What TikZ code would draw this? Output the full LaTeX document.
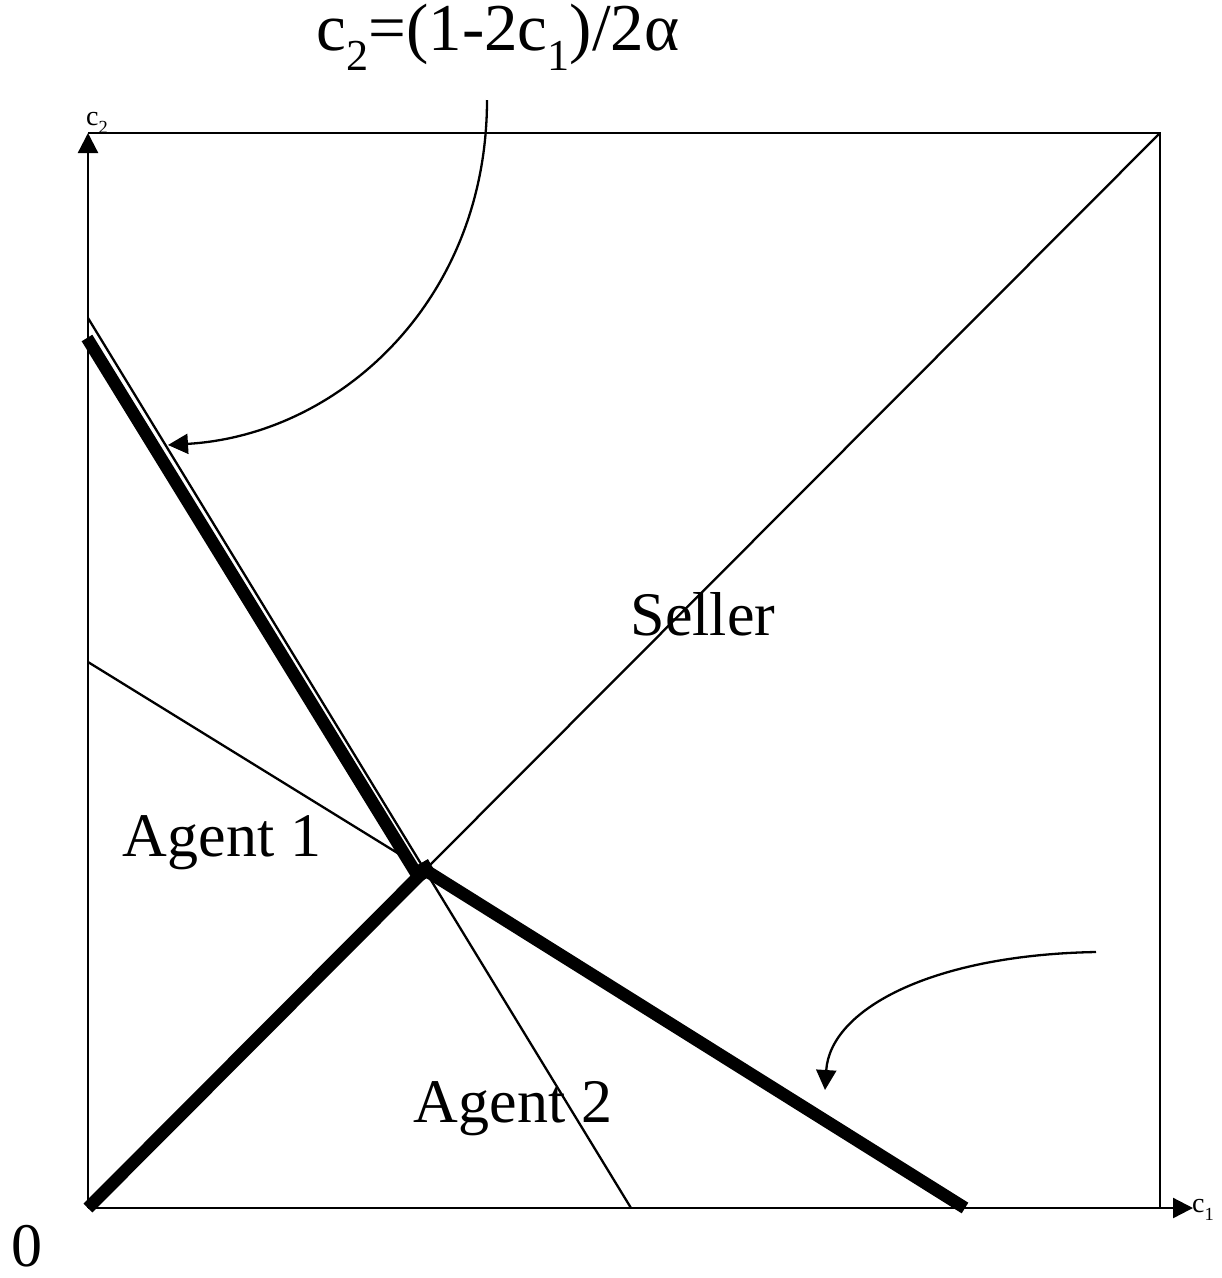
\documentclass[tikz,border=0pt]{standalone}
\usepackage{fontspec}
\setmainfont{Liberation Serif}
\usetikzlibrary{arrows.meta,calc}
\newcommand{\dnsub}[1]{\raisebox{-0.3em}{\scalebox{0.66}{#1}}}
\begin{document}
\begin{tikzpicture}[x=1pt,y=-1pt,
  thin line/.style={line width=2.3pt},
  thick line/.style={line width=12.5pt},
  tip/.style={-{Triangle[length=20pt,width=20pt]}},
  big/.style={font=\fontsize{62}{62}\selectfont, inner sep=0pt, anchor=base},
  small/.style={font=\fontsize{28}{28}\selectfont, inner sep=0pt, anchor=base west}]
\useasboundingbox (0,0) rectangle (1222,1278);
% corners
\coordinate (O) at (88,1208);
\coordinate (TL) at (88,133);
\coordinate (TR) at (1160,133);
\coordinate (BR) at (1160,1208);
\coordinate (X1) at (1193,1208);
\coordinate (P) at (425,870);
\coordinate (P1) at (416,873);
\coordinate (A) at (88,318);
\coordinate (Ab) at (631,1208);
\coordinate (B) at (88,662);
\coordinate (Bb) at (965,1208);
\coordinate (T) at (87,338);
% frame and axes
\draw[thin line, tip] (O) -- (TL);
\draw[thin line] (TL) -- (TR) -- (BR);
\draw[thin line, tip] (O) -- (X1);
% thin lines
\draw[thin line] (A) -- (Ab);
\draw[thin line] (B) -- (P);
\draw[thin line] (P) -- (TR);
% thick lines
\draw[thick line] (T) -- (P1);
\draw[thick line] (O) -- (P);
\draw[thick line] (P) -- (Bb);
\fill[rotate around={30:(P)}] ($(P)+(-8,-8)$) rectangle ($(P)+(8,8)$);
% curved arrows
\coordinate (s1) at (487,100);
\coordinate (e1) at (168,445);
\draw[thin line, tip] (s1) .. controls (487,300) and (340,435) .. (e1);
\coordinate (s2) at (1096,952);
\coordinate (e2) at (825,1090);
\draw[thin line, tip] (s2) .. controls (930,955) and (830,1010) .. (e2);
% labels
\node[big, font=\fontsize{67}{67}\selectfont] (lab) at (498,50) {c\dnsub{2}=(1-2c\dnsub{1})/2α};
\node[big] (sel) at (703,635) {Seller};
\node[big] (ag1) at (222,856) {Agent 1};
\node[big] (ag2) at (513,1122) {Agent 2};
\node[big] (zero) at (27,1266) {0};
\node[small] (c2) at (86,125) {c\dnsub{2}};
\node[small] (c1) at (1192,1212) {c\dnsub{1}};
\end{tikzpicture}
\end{document}
